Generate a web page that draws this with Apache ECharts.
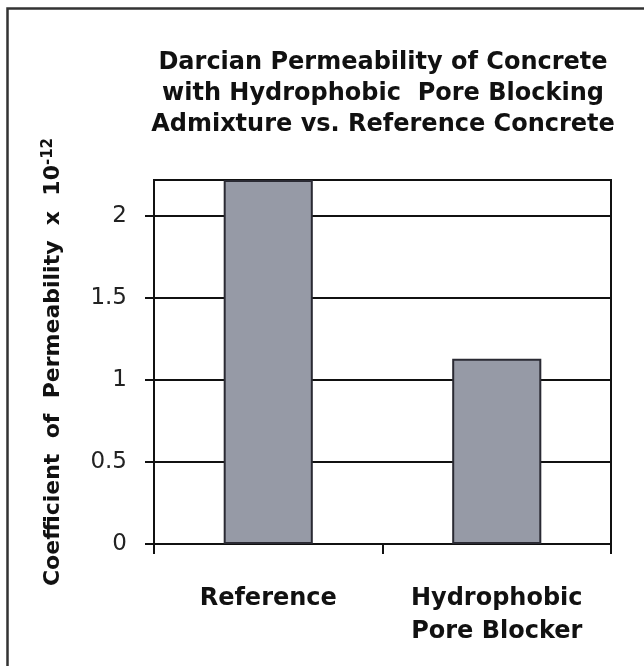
<!DOCTYPE html>
<html>
<head>
<meta charset="utf-8">
<script src="https://cdn.jsdelivr.net/npm/echarts@6/dist/echarts.min.js"></script>
<style>
  html, body { margin: 0; padding: 0; background: #fff; }
  #chart { width: 644px; height: 666px; }
</style>
</head>
<body>
<div id="chart"></div>
<script>
// data
const categories = ['Reference', 'Hydrophobic\nPore Blocker'];
const permeability = [2.22, 1.13];
const yTicks = [0, 0.5, 1, 1.5, 2];
const yMax = 2.22;

const chart = echarts.init(document.getElementById('chart'));
const font = '"DejaVu Sans", "Liberation Sans", Arial, sans-serif';

const option = {
    animation: false,
    backgroundColor: '#fff',
    title: {
        text: 'Darcian Permeability of Concrete\nwith Hydrophobic  Pore Blocking\nAdmixture vs. Reference Concrete',
        left: 378,
        top: 42,
        textAlign: 'center',
        textStyle: {
            fontFamily: font,
            fontSize: 24,
            fontWeight: 'bold',
            color: '#111',
            lineHeight: 31
        }
    },
    graphic: [
        {
            // outer frame, only top and left edges are inside the picture
            type: 'rect',
            shape: { x: 7.5, y: 8.5, width: 800, height: 800 },
            style: { fill: 'none', stroke: '#333', lineWidth: 2.5 },
            silent: true
        }
    ],
    grid: {
        left: 154,
        right: 33,
        top: 180,
        bottom: 122,
        show: true,
        borderColor: '#111',
        borderWidth: 2
    },
    xAxis: {
        type: 'category',
        data: categories,
        axisLine: { lineStyle: { color: '#111', width: 2 } },
        axisTick: { show: true, length: 10, lineStyle: { color: '#111', width: 2 } },
        axisLabel: {
            margin: 38,
            fontFamily: font,
            fontSize: 24,
            fontWeight: 'bold',
            color: '#111',
            lineHeight: 33
        }
    },
    yAxis: {
        type: 'value',
        min: 0,
        max: yMax,
        interval: 0.5,
        name: '{n|Coefficient  of  Permeability  x  10}{s|-12}',
        nameLocation: 'middle',
        nameGap: 88,
        nameTextStyle: {
            rich: {
                n: { fontFamily: font, fontSize: 22, fontWeight: 'bold', color: '#111' },
                s: { fontFamily: font, fontSize: 15, fontWeight: 'bold', color: '#111', verticalAlign: 'top', padding: [0, 0, 10, 0] }
            }
        },
        axisLine: { show: true, lineStyle: { color: '#111', width: 2 } },
        axisTick: { show: true, length: 9, customValues: yTicks, lineStyle: { color: '#111', width: 2 } },
        axisLabel: {
            customValues: yTicks,
            margin: 27,
            fontFamily: font,
            fontSize: 23,
            color: '#222'
        },
        splitLine: { show: true, lineStyle: { color: '#111', width: 2 } }
    },
    series: [
        {
            type: 'bar',
            data: permeability,
            barWidth: '39%',
            itemStyle: {
                color: '#969aa6',
                borderColor: '#2a2a33',
                borderWidth: 2
            }
        }
    ]
};

chart.setOption(option);
</script>
</body>
</html>
